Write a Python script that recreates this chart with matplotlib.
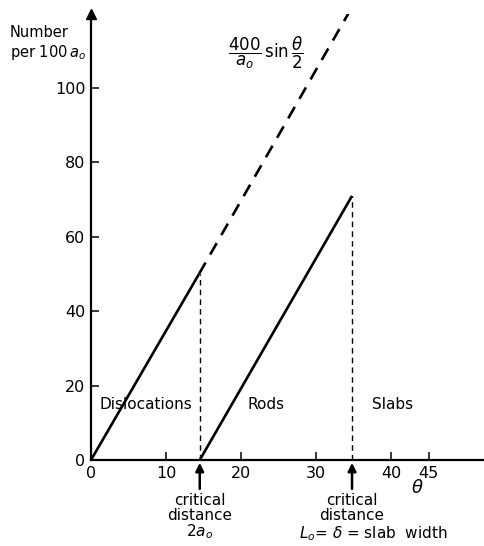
import matplotlib
matplotlib.use("Agg")
import matplotlib.pyplot as plt

# values
theta_disl = [0, 14.4]
n_disl = [0, 50]
theta_ext = [14.4, 34.3]
n_ext = [50, 120]
theta_rods = [14.5, 34.8]
n_rods = [0, 71]
crit1 = 14.5
crit2 = 34.8
xticks = [0, 10, 20, 30, 40, 45]
yticks = [0, 20, 40, 60, 80, 100]

plt.rcParams['font.family'] = 'DejaVu Sans'
plt.rcParams['mathtext.fontset'] = 'dejavusans'

fig = plt.figure(figsize=(4.85, 5.46), dpi=100)
ax = fig.add_axes([0.1876, 0.1575, 0.812, 0.8176])
ax.set_xlim(0, 52.5)
ax.set_ylim(0, 120)

lw = 1.9
ax.plot(theta_disl, n_disl, color='black', lw=lw, solid_capstyle='butt')
ax.plot(theta_ext, n_ext, color='black', lw=lw, dashes=(5, 3.5))
ax.plot(theta_rods, n_rods, color='black', lw=lw, solid_capstyle='butt')
ax.plot([crit1, crit1], [0, n_disl[1]], color='black', lw=1.0, dashes=(4, 3))
ax.plot([crit2, crit2], [0, n_rods[1]], color='black', lw=1.0, dashes=(4, 3))

for s in ['top', 'right']:
    ax.spines[s].set_visible(False)
for s in ['left', 'bottom']:
    ax.spines[s].set_linewidth(1.6)
ax.plot([0], [1], marker='^', color='black', ms=7, transform=ax.transAxes, clip_on=False)

ax.set_xticks(xticks)
ax.set_yticks(yticks)
ax.tick_params(direction='in', length=6, width=1.1, labelsize=11.5, pad=4)

ax.text(1.2, 15, 'Dislocations', fontsize=11, va='center')
ax.text(20.8, 15, 'Rods', fontsize=11, va='center')
ax.text(37.5, 15, 'Slabs', fontsize=11, va='center')

ax.text(18.3, 109.5, r'$\dfrac{400}{a_o}\,\sin\dfrac{\theta}{2}$', fontsize=12, va='center')
fig.text(0.02, 0.886, 'Number\nper 100$\\,a_o$', fontsize=10.5, ha='left', va='bottom',
         linespacing=1.2)

ax.text(43.5, -7.5, r'$\theta$', fontsize=13, ha='center', va='center')

ax.annotate('', xy=(crit1, 0), xytext=(crit1, -8.5),
            arrowprops=dict(arrowstyle='-|>', color='black', lw=1.8, mutation_scale=12))
ax.annotate('', xy=(crit2, 0), xytext=(crit2, -8.5),
            arrowprops=dict(arrowstyle='-|>', color='black', lw=1.8, mutation_scale=12))
ax.text(crit1, -8.8, 'critical\ndistance\n2$a_o$', fontsize=11, ha='center', va='top',
        linespacing=1.0)
ax.text(crit2, -8.8, 'critical\ndistance', fontsize=11, ha='center', va='top',
        linespacing=1.0)
ax.text(crit2 + 2.8, -17.3, r'$L_o$= $\delta$ = slab  width', fontsize=11, ha='center', va='top')

fig.savefig('out.png', dpi=100)
